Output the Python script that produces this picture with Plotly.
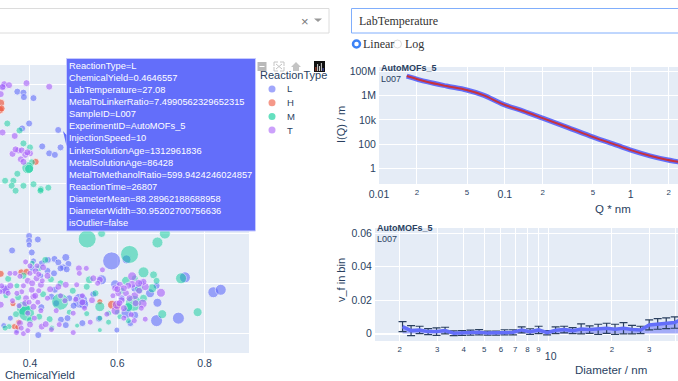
import plotly.graph_objects as go

W, H = 678, 381

# ---------- data: (ChemicalYield, LabTemperature, marker diameter) ----------
L_points = [
 (.339,27.96,7),(.371,27.85,7),(.385,27.83,7),(.386,27.74,7),(.408,27.72,7),(.398,27.21,7),(.382,27.11,7),
 (.4646557,27.08,7),(.428,26.75,7),(.470,26.73,7),(.444,26.61,7),(.457,26.58,7),
 (.398,24.95,7),(.398,24.85,7),(.398,24.77,6),(.418,24.88,7),(.359,24.66,7),(.404,24.62,7),
 (.587,24.45,18),(.621,24.48,9),(.482,24.52,8),(.488,24.39,7),(.476,24.32,7),(.456,24.49,7),(.465,24.42,7),
 (.484,24.28,7),(.441,24.47,7),(.427,24.40,7),(.408,24.45,6),
 (.755,24.12,11),(.820,23.82,11),(.837,23.87,11),(.692,23.61,9),(.690,23.25,12),(.740,23.30,12),
 (.515,23.65,15),(.523,23.58,10),(.599,23.06,6),(.419,22.96,7),(.343,23.87,11),(.595,23.98,9),(.564,24.07,10),
 (.675,23.80,9),(.621,23.40,11),(.640,23.36,8),(.471,23.27,7),(.486,23.30,7),(.482,23.16,7),(.520,23.20,7),
 (.558,23.29,7),(.449,23.73,7),(.426,23.52,7),(.457,23.87,7),(.405,24.30,7),(.690,23.95,7),(.610,23.70,7),
 (.640,23.90,8),(.355,23.30,6),(.340,23.15,6),(.370,23.05,6),(.500,23.55,7),(.545,23.78,7),(.655,24.00,7),
 (.470,24.30,7),(.455,24.20,7),(.440,24.25,7),(.425,24.15,6),(.490,23.70,7),(.460,23.60,7),(.630,23.20,7),
]
H_points = [
 (.333,27.62,8),(.331,27.48,8),(.335,27.51,7),(.413,26.44,7),(.333,24.19,7),(.380,24.22,7),(.392,24.23,7),
 (.361,23.59,6),(.588,23.57,9),(.601,23.53,7),(.364,23.13,6),(.374,23.22,6),(.372,23.12,6),(.560,23.63,6),
]
M_points = [
 (.348,27.21,7),(.376,27.07,7),(.385,26.81,7),(.400,26.73,7),(.404,26.43,7),(.395,26.32,12),(.398,26.30,9),
 (.371,26.20,7),(.362,26.06,7),(.343,26.06,7),(.358,25.96,7),(.385,25.96,7),(.408,25.99,7),(.425,25.89,7),
 (.442,25.92,7),(.367,25.86,7),(.424,25.86,7),
 (.531,24.89,18),(.564,25.00,8),(.692,24.82,11),(.709,25.00,11),(.628,24.58,18),(.660,24.22,11),(.683,24.17,8),
 (.746,24.10,11),(.784,23.42,9),(.703,23.38,9),(.469,23.63,17),(.385,23.50,14),(.392,23.40,16),(.560,23.53,10),
 (.637,23.60,16),(.560,23.06,5),(.508,23.15,5),(.530,23.39,6),(.625,23.25,6),(.606,23.33,6),
 (.536,24.07,8),(.530,23.93,7),(.550,23.80,7),(.350,24.09,7),(.370,23.95,6),(.405,24.40,6),(.435,24.47,7),
 (.420,24.30,7),(.385,24.15,7),(.448,24.08,7),(.470,24.00,7),(.498,23.85,7),(.430,23.78,7),(.373,23.72,7),
 (.345,23.75,6),(.368,23.38,7),(.400,23.26,7),(.421,23.33,7),(.445,23.28,7),(.490,23.42,6),(.580,23.22,6),
 (.620,24.05,9),(.650,23.88,9),(.680,23.90,9),(.690,24.05,7),(.640,24.10,7),(.610,23.85,7),(.660,23.70,8),
 (.625,23.52,9),(.580,23.40,6),(.560,23.30,6),(.450,23.10,6),(.352,23.13,6),(.343,23.10,6),(.600,23.42,6),
]
T_points = [
 (.341,28.00,7),(.352,27.98,7),(.337,27.94,7),(.392,28.02,7),(.444,27.95,7),(.333,27.80,7),(.337,27.03,7),
 (.365,26.96,7),(.360,26.60,7),(.373,26.67,7),(.367,26.69,7),(.381,26.67,7),(.400,26.61,7),(.389,26.58,7),
 (.379,26.49,7),(.385,26.44,7),(.394,26.63,7),
 (.700,23.81,9),(.658,23.59,9),(.634,24.14,9),(.596,23.45,9),(.664,23.93,8),(.660,24.03,7),(.634,23.98,8),
 (.606,23.97,7),(.602,23.80,7),(.610,23.66,7),(.560,24.07,7),(.545,24.10,7),(.512,24.30,7),(.513,24.20,6),
 (.529,24.30,6),(.566,24.27,6),(.465,23.93,7),(.482,23.97,7),(.425,23.97,7),(.408,23.73,7),(.391,23.70,7),
 (.389,23.60,7),(.404,23.87,7),(.366,24.20,6),(.354,24.20,6),(.390,24.43,6),(.400,24.35,6),(.416,24.35,6),
 (.413,24.24,7),(.377,24.14,6),(.381,23.83,6),(.343,23.87,9),(.333,23.57,7),(.331,23.83,6),(.350,23.80,6),
 (.370,23.80,6),(.377,23.20,7),(.369,23.01,6),(.385,22.99,6),(.400,23.17,7),(.427,23.13,7),(.436,23.18,7),
 (.449,23.07,6),(.467,23.17,6),(.499,23.01,6),(.499,23.40,6),(.538,23.22,6),(.576,23.38,6),(.664,23.28,6),
 (.639,23.25,6),(.632,23.37,6),(.446,23.88,7),(.408,23.53,7),(.507,23.97,6),(.542,23.66,7),(.599,23.57,9),
 (.595,23.90,7),(.649,24.00,8),(.440,24.15,7),(.415,24.10,7),(.395,24.05,7),(.430,24.32,7),(.375,23.55,6),
 (.418,23.62,6),(.640,23.75,8),(.620,23.80,7),(.470,23.75,6),(.555,24.00,6),(.480,23.65,6),
 (.420,24.18,6),(.400,24.20,6),(.385,23.95,6),(.420,23.85,6),(.440,23.70,6),(.395,23.40,6),(.410,23.30,6),
 (.360,23.65,6),(.355,23.95,7),(.335,23.95,6),(.590,23.75,6),(.605,23.60,7),(.625,23.95,7),(.650,23.85,7),
 (.615,23.30,6),(.655,23.50,6),(.520,23.75,6),(.525,23.50,6),(.460,23.45,6),(.380,23.10,6),(.395,23.05,6),
 (.405,24.00,7),(.428,24.05,6),(.412,23.75,7),(.398,23.62,6),(.425,23.45,6),(.600,23.88,7),(.615,23.90,7),
 (.628,23.70,7),(.642,23.60,7),(.615,23.50,7),(.520,23.62,7),(.505,23.68,6),
]

Q_values = [.0166,.0239,.0344,.0497,.0674,.0973,.140,.202,.310,.504,.772,.986,1.42,1.93,2.37,2.6]
I_values = [3.9e7,1.34e7,5.9e6,2.8e6,1.07e6,1.85e5,5.3e4,1.32e4,2.6e3,390,86,35,11.4,5.4,3.7,3.1]

D_values = [2.06,2.26,2.48,2.72,2.98,3.27,3.59,3.93,4.31,4.73,5.19,5.69,6.24,6.84,7.51,8.23,9.03,9.90,
            10.86,11.91,13.06,14.33,15.71,17.24,18.9,20.7,22.7,24.9,27.3,30.0,32.9,36.1,39.6,43.4]
vf_values = [.0042,.0018,.0022,.0012,.0012,.0018,.0002,.0004,.0006,.0008,.0003,.0003,.0008,.0008,.0022,.0012,
             .0022,.0005,.0020,.0024,.0018,.0028,.0024,.0026,.0032,.0026,.0032,.0024,.0022,.0052,.0058,.0062,.0066,.0092]
vf_errors = [.0030,.0030,.0022,.0018,.0022,.0020,.0014,.0014,.0015,.0016,.0012,.0012,.0015,.0015,.0018,.0017,
             .0022,.0013,.0020,.0020,.0018,.0030,.0022,.0030,.0030,.0030,.0034,.0025,.0022,.0030,.0032,.0032,.0034,.0036]

reaction_types = ["L", "H", "M", "T"]
type_colors = ["#636efa", "#EF553B", "#00cc96", "#ab63fa"]
type_opacity = [0.6, 0.65, 0.47, 0.62]
type_points = [L_points, H_points, M_points, T_points]

hover_lines = [
 "ReactionType=L","ChemicalYield=0.4646557","LabTemperature=27.08","MetalToLinkerRatio=7.4990562329652315",
 "SampleID=L007","ExperimentID=AutoMOFs_5","InjectionSpeed=10","LinkerSolutionAge=1312961836",
 "MetalSolutionAge=86428","MetalToMethanolRatio=599.9424246024857","ReactionTime=26807",
 "DiameterMean=88.28962188688958","DiameterWidth=30.95202700756636","isOutlier=false",
]

# ---------- pixel helpers for page furniture ----------
def px(x): return x / W
def py(y): return 1 - y / H

TXT = "#2a3f5f"
SANS = "Liberation Sans"
fig = go.Figure()

for name, color, op, pts in zip(reaction_types, type_colors, type_opacity, type_points):
    fig.add_trace(go.Scatter(
        x=[p[0] for p in pts], y=[p[1] for p in pts], mode="markers", name=name,
        marker=dict(color=color, size=[p[2] for p in pts], opacity=op, line=dict(color="white", width=0.8)),
        xaxis="x", yaxis="y", showlegend=False))

fig.add_trace(go.Scatter(x=Q_values, y=I_values, mode="lines", line=dict(color="#636efa", width=5, shape="spline"),
                         xaxis="x2", yaxis="y2", showlegend=False, name="data"))
fig.add_trace(go.Scatter(x=Q_values, y=I_values, mode="lines", line=dict(color="#c8323c", width=2, shape="spline"),
                         xaxis="x2", yaxis="y2", showlegend=False, name="fit"))

fig.add_trace(go.Scatter(x=D_values, y=vf_values, mode="lines", fill="tozeroy", fillcolor="rgba(99,110,250,0.5)",
                         line=dict(color="#636efa", width=3.5),
                         error_y=dict(type="data", array=vf_errors, color=TXT, thickness=1.2, width=4),
                         xaxis="x3", yaxis="y3", showlegend=False, name="v_f"))

axis_common = dict(gridcolor="white", zerolinecolor="white", linecolor="white", tickcolor=TXT, automargin=False,
                   tickfont=dict(family=SANS, size=10.5, color=TXT))
layout = dict(
    width=W, height=H, margin=dict(l=0, r=0, t=0, b=0, autoexpand=False), paper_bgcolor="white", plot_bgcolor="#e5ecf6",
    xaxis=dict(axis_common, domain=[0, px(249)], range=[.3313, .9017], tickvals=[.4, .6, .8], ticktext=["0.4", "0.6", "0.8"],
               anchor="y", ticks=""),
    yaxis=dict(axis_common, domain=[py(353), py(65)], range=[22.6, 28.385], dtick=1, showticklabels=False, anchor="x", zeroline=False),
    xaxis2=dict(axis_common, domain=[px(379), 1], type="log", range=[-2, .375], dtick="D2", anchor="y2", ticks=""),
    yaxis2=dict(axis_common, domain=[py(184), py(67)], type="log", range=[-1.25, 8.33], dtick=2, anchor="x2", ticks=""),
    xaxis3=dict(axis_common, domain=[px(375), 1], type="log", range=[.184, 1.613], dtick="D1", anchor="y3", ticks=""),
    yaxis3=dict(axis_common, domain=[py(341), py(228)], range=[-.0044, .063], tickvals=[0, .02, .04, .06],
                ticktext=["0", "0.02", "0.04", "0.06"], anchor="x3", ticks=""),
)
fig.update_layout(**layout)

shapes, ann = [], []
def text(x, y, s, size=10, color=TXT, family=SANS, anchor="left", angle=0, bold=False):
    ann.append(dict(xref="paper", yref="paper", x=px(x), y=py(y), text=f"<b>{s}</b>" if bold else s, showarrow=False,
                    xanchor=anchor, yanchor="middle", textangle=angle, borderpad=0, font=dict(size=size, color=color, family=family)))
def rect(x0, y0, x1, y1, fill="rgba(0,0,0,0)", line="rgba(0,0,0,0)", lw=1, kind="rect"):
    shapes.append(dict(type=kind, xref="paper", yref="paper", x0=px(x0), x1=px(x1), y0=py(y1), y1=py(y0),
                       fillcolor=fill, line=dict(color=line, width=lw), layer="above"))
def path(points, fill, line="rgba(0,0,0,0)", lw=1):
    d = "M " + " L ".join(f"{px(a)},{py(b)}" for a, b in points) + " Z"
    shapes.append(dict(type="path", xref="paper", yref="paper", path=d, fillcolor=fill, line=dict(color=line, width=lw), layer="above"))

# dropdowns and radio
rect(-6, 8.5, 329, 33, fill="white", line="#dcdcdc", lw=1)
text(304.5, 21, "×", size=13, color="#777777", anchor="center")
path([(314, 18.5), (322, 18.5), (318, 22)], "#999999")
rect(351.5, 8.5, 690, 33, fill="white", line="#80aefc", lw=1)
text(358, 21, "LabTemperature", size=12, color="#333333", family="Liberation Serif")
rect(353, 40.5, 360, 47.5, fill="white", line="#3b82f6", lw=2.5, kind="circle")
text(362, 44, "Linear", size=12, color="#333333", family="Liberation Serif")
rect(393.5, 40, 401.5, 48, fill="white", line="#dddddd", lw=1, kind="circle")
text(404, 44, "Log", size=12, color="#333333", family="Liberation Serif")

# axis titles and panel notes
text(40, 375, "ChemicalYield", size=11, anchor="center")
text(613, 209, "Q * nm", size=11.5, anchor="center")
text(611, 370, "Diameter / nm", size=11.5, anchor="center")
text(341, 125, "I(Q) / m", size=11, anchor="center", angle=-90)
text(341, 280, "v_f in bin", size=11, anchor="center", angle=-90)
text(380, 68, "AutoMOFs_5", size=9, bold=True)
text(380, 79, "L007", size=9)
text(376, 228, "AutoMOFs_5", size=9, bold=True)
text(376, 239, "L007", size=9)

# legend
text(259, 75, "ReactionType", size=11)
for i, (n, c) in enumerate(zip(reaction_types, type_colors)):
    yy = 89 + i * 13.7
    rect(268.5, yy - 3.5, 275.5, yy + 3.5, fill=c, kind="circle")
    shapes[-1]["opacity"] = 0.6
    text(286, yy, n, size=9.5)

# modebar
rect(257.5, 62, 266.5, 71, fill="#b9b9b9")
rect(259.5, 66, 264.5, 67, fill="white")
for a, b, c, d in [(274, 62, 278, 62), (274, 62, 274, 66), (284, 62, 280, 62), (284, 62, 284, 66),
                   (274, 71, 278, 71), (274, 71, 274, 67), (284, 71, 280, 71), (284, 71, 284, 67), (276, 64, 282, 69), (282, 64, 276, 69)]:
    shapes.append(dict(type="line", xref="paper", yref="paper", x0=px(a), y0=py(b), x1=px(c), y1=py(d),
                       line=dict(color="#c4c4c4", width=1), layer="above"))
path([(291, 67), (296, 62), (301, 67), (299, 67), (299, 71), (293, 71), (293, 67)], "#c4c4c4")
rect(314, 61, 325, 72, fill="#111111")
for i, (h, c) in enumerate(zip([4, 7, 5, 8, 3], ["#ef553b", "#ffffff", "#ffffff", "#ffffff", "#636efa"])):
    rect(315.5 + i * 1.8, 71 - h, 316.3 + i * 1.8, 71, fill=c)

# hover box
rect(66.5, 58.5, 255.5, 231, fill="#636efa", line="#c6caff", lw=1)
path([(63, 131), (66.5, 135), (66.5, 146)], "#636efa")
for i, line in enumerate(hover_lines):
    text(68.3, 65.5 + i * 12.15, line, size=9.3, color="white", family=SANS)

fig.update_layout(shapes=shapes, annotations=ann)
fig.write_html("out.html", config=dict(displayModeBar=False),
               post_script="document.body.style.cssText='margin:0;padding:0;overflow:hidden';"
                           "document.getElementById('{plot_id}').style.cssText+=';position:fixed;left:0;top:0';")
